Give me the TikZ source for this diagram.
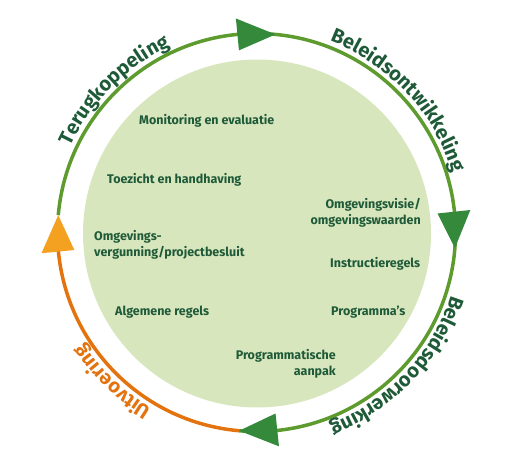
\documentclass[tikz,border=0pt]{standalone}
\usepackage{fontspec}
\setmainfont{Fira Sans}
\usetikzlibrary{decorations.text}
\definecolor{ringgreen}{HTML}{5E9B2E}
\definecolor{arrowgreen}{HTML}{34893A}
\definecolor{textgreen}{HTML}{1E5A38}
\definecolor{ringorange}{HTML}{E3730F}
\definecolor{arroworange}{HTML}{F4A020}
\definecolor{fillgreen}{HTML}{D8E6BE}
\begin{document}
\begin{tikzpicture}[x=1pt,y=1pt,
  ring/.style={line width=3.5pt},
  inlabel/.style={text=textgreen, font=\fontsize{12.5}{16}\selectfont\bfseries, inner sep=0pt},
  arclabel/.style 2 args={decorate, decoration={text along path, text align=center,
     text={|\color{#1}\fontsize{20}{20}\selectfont\bfseries|#2}}},
]
\useasboundingbox (0,0) rectangle (518,469);
\coordinate (C) at (256.5,236.5);
\coordinate (I) at (257,235.5);
\fill[fillgreen] (I) circle[radius=174];
% ring
\draw[ring, ringgreen] ([shift={(175:199)}]C) arc[start angle=175, end angle=-95, radius=199];
\draw[ring, ringorange] ([shift={(265:199)}]C) arc[start angle=265, end angle=185, radius=199];
% arrowheads
\fill[arrowgreen] ([shift={(95.5:183)}]C) -- ([shift={(95.5:215)}]C) -- ([shift={(84.5:199)}]C) -- cycle;
\fill[arrowgreen] ([shift={(6:182)}]C) -- ([shift={(6:215)}]C) -- ([shift={(-4.5:199)}]C) -- cycle;
\fill[arrowgreen] ([shift={(-84:182)}]C) -- ([shift={(-84:215)}]C) -- ([shift={(-95:199)}]C) -- cycle;
\fill[arroworange] ([shift={(185.5:183)}]C) -- ([shift={(185.5:216)}]C) -- ([shift={(175:199)}]C) -- cycle;
% curved labels
\path[arclabel={textgreen}{Terugkoppeling}] ([shift={(175:205)}]C) arc[start angle=175, end angle=95, radius=205];
\path[arclabel={textgreen}{Beleidsontwikkeling}] ([shift={(83:205)}]C) arc[start angle=83, end angle=3, radius=205];
\path[arclabel={textgreen}{Beleidsdoorwerking}] ([shift={(-3.5:205)}]C) arc[start angle=-3.5, end angle=-83.5, radius=205];
\path[arclabel={ringorange}{Uitvoering}] ([shift={(266:205)}]C) arc[start angle=266, end angle=186, radius=205];
% inner labels
\node[inlabel, anchor=west] (mon) at (139,348) {Monitoring en evaluatie};
\node[inlabel, anchor=west] (toe) at (107,289) {Toezicht en handhaving};
\node[inlabel, anchor=east, align=right] (ovi) at (421,256) {Omgevingsvisie/\\omgevingswaarden};
\node[inlabel, anchor=west, align=left] (ove) at (94,224.5) {Omgevings-\\vergunning/projectbesluit};
\node[inlabel, anchor=west] (ins) at (330,205) {Instructieregels};
\node[inlabel, anchor=west] (alg) at (115,157) {Algemene regels};
\node[inlabel, anchor=west] (pro) at (331,157) {Programma’s};
\node[inlabel, anchor=east, align=right] (pra) at (336,105.5) {Programmatische\\aanpak};
\end{tikzpicture}
\end{document}
